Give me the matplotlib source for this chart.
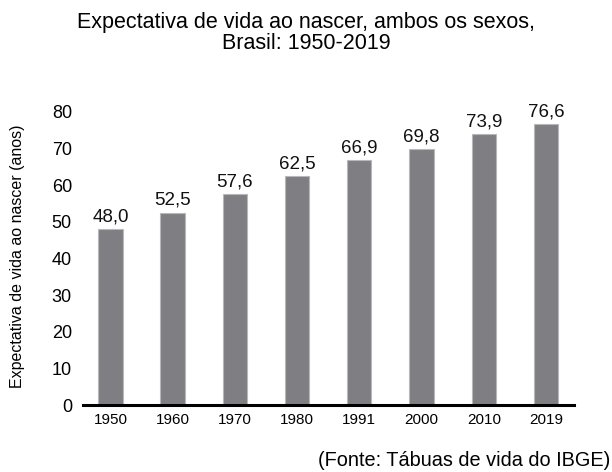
import matplotlib
matplotlib.use("Agg")
import matplotlib.pyplot as plt

years = ["1950", "1960", "1970", "1980", "1991", "2000", "2010", "2019"]
values = [48.0, 52.5, 57.6, 62.5, 66.9, 69.8, 73.9, 76.6]
value_labels = ["48,0", "52,5", "57,6", "62,5", "66,9", "69,8", "73,9", "76,6"]
yticks = [0, 10, 20, 30, 40, 50, 60, 70, 80]

plt.rcParams['font.family'] = ['Liberation Sans', 'DejaVu Sans']

fig = plt.figure(figsize=(6.12, 4.72), dpi=100)
W, H = 612, 472
x0, x1 = 83, 574
y0, ytop = 405, 405 - 85 * (293.3 / 80)
ax = fig.add_axes([x0 / W, 1 - y0 / H, (x1 - x0) / W, (y0 - ytop) / H])

xs = range(len(years))
ax.bar(xs, values, width=0.39, color='#7f7f83', edgecolor='#b8b8bb', linewidth=0.8)
for x, v, lab in zip(xs, values, value_labels):
    ax.text(x, v + 1.0, lab, ha='center', va='bottom', fontsize=13.5, color='#111111')

ax.set_xlim(-0.44, 7.45)
ax.set_ylim(0, 85)
ax.set_xticks(list(xs))
ax.set_xticklabels(years, fontsize=11)
ax.set_yticks(yticks)
ax.set_yticklabels([str(t) for t in yticks], fontsize=13)
ax.tick_params(axis='both', length=0)
ax.tick_params(axis='x', pad=6)
ax.tick_params(axis='y', pad=8)
for s in ['top', 'right', 'left']:
    ax.spines[s].set_visible(False)
ax.spines['bottom'].set_linewidth(2.2)
ax.spines['bottom'].set_color('black')

fig.text(306 / W, 1 - 33 / H, "Expectativa de vida ao nascer, ambos os sexos,\nBrasil: 1950-2019",
         ha='center', va='center', fontsize=15.5, linespacing=1.0)
fig.text(18 / W, 1 - 256 / H, "Expectativa de vida ao nascer (anos)", rotation=90,
         ha='center', va='center', fontsize=11.5)
fig.text(610 / W, 1 - 461 / H, "(Fonte: Tábuas de vida do IBGE)", ha='right', va='center', fontsize=14.3)

fig.savefig("out.png", dpi=100)
